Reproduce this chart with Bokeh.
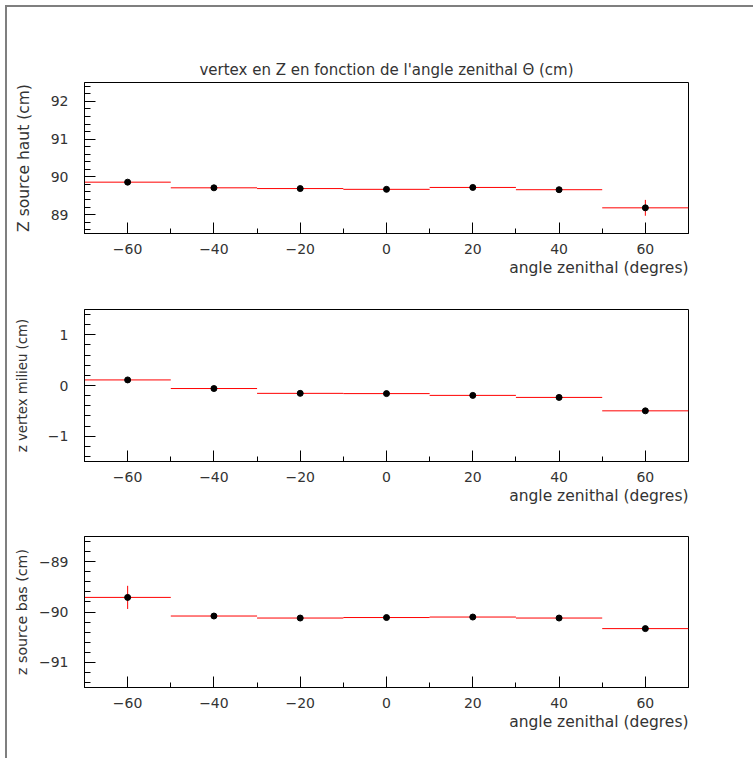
from bokeh.plotting import figure
from bokeh.layouts import column
from bokeh.models import (SingleIntervalTicker, ColumnDataSource, Range1d,
                          CustomJSTickFormatter, Title)
from bokeh.embed import file_html
from bokeh.resources import INLINE

# ---- data ----
angle = [-60, -40, -20, 0, 20, 40, 60]
angle_half_bin = [10, 10, 10, 10, 10, 10, 10]

z_haut = [89.86, 89.71, 89.69, 89.67, 89.72, 89.66, 89.18]
z_haut_err = [0.02, 0.02, 0.02, 0.02, 0.02, 0.03, 0.21]

z_milieu = [0.11, -0.06, -0.155, -0.16, -0.195, -0.235, -0.50]
z_milieu_err = [0.02, 0.02, 0.01, 0.01, 0.01, 0.01, 0.02]

z_bas = [-89.71, -90.08, -90.12, -90.11, -90.10, -90.12, -90.33]
z_bas_err = [0.23, 0.02, 0.02, 0.02, 0.02, 0.02, 0.03]

title_text = "vertex en Z en fonction de l'angle zenithal \u0398 (cm)"
x_label = "angle zenithal (degres)"

FONT = "DejaVu Sans"
TXT = "#333333"

minus_fmt = CustomJSTickFormatter(code="""
    return tick < 0 ? "\\u2212" + String(Math.abs(tick)) : String(tick);
""")


def panel(yvals, yerr, yrange, ylabel, ylabel_size, height, top, bottom, ystandoff, title=None):
    p = figure(width=746, height=height,
               x_range=Range1d(-70, 70), y_range=Range1d(*yrange),
               output_backend="svg", toolbar_location=None,
               min_border_left=77, min_border_right=65,
               min_border_top=top, min_border_bottom=bottom,
               title=title)
    p.grid.visible = False
    p.outline_line_color = "black"
    p.outline_line_width = 1
    p.background_fill_color = "white"
    p.border_fill_color = "white"

    if title:
        p.title.align = "center"
        p.title.text_font = FONT
        p.title.text_font_style = "normal"
        p.title.text_font_size = "15px"
        p.title.text_color = TXT
        p.title.standoff = 8

    xa = p.xaxis[0]
    xa.ticker = SingleIntervalTicker(interval=20, num_minor_ticks=2)
    xa.formatter = minus_fmt
    xa.major_label_text_font = FONT
    xa.major_label_text_font_size = "14px"
    xa.major_label_text_color = TXT
    xa.major_label_standoff = 10
    xa.major_tick_in = 11
    xa.major_tick_out = 0
    xa.minor_tick_in = 5
    xa.minor_tick_out = 0
    xa.axis_line_color = "black"
    xa.major_tick_line_color = "black"
    xa.minor_tick_line_color = "black"

    xt = Title(text=x_label, align="right", text_font=FONT, text_font_style="normal",
               text_font_size="15.5px", text_color=TXT, standoff=0, offset=0)
    p.add_layout(xt, "below")

    ya = p.yaxis[0]
    ya.ticker = SingleIntervalTicker(interval=1, num_minor_ticks=5)
    ya.formatter = minus_fmt
    ya.axis_label = ylabel
    ya.axis_label_text_font = FONT
    ya.axis_label_text_font_style = "normal"
    ya.axis_label_text_font_size = ylabel_size
    ya.axis_label_text_color = TXT
    ya.axis_label_standoff = ystandoff
    ya.major_label_text_font = FONT
    ya.major_label_text_font_size = "14px"
    ya.major_label_text_color = TXT
    ya.major_label_standoff = 16
    ya.major_tick_in = 11
    ya.major_tick_out = 0
    ya.minor_tick_in = 6
    ya.minor_tick_out = 0
    ya.axis_line_color = "black"
    ya.major_tick_line_color = "black"
    ya.minor_tick_line_color = "black"

    x0 = [a - h for a, h in zip(angle, angle_half_bin)]
    x1 = [a + h for a, h in zip(angle, angle_half_bin)]
    ylo = [v - e for v, e in zip(yvals, yerr)]
    yhi = [v + e for v, e in zip(yvals, yerr)]
    src = ColumnDataSource(dict(x=angle, y=yvals, x0=x0, x1=x1, ylo=ylo, yhi=yhi))
    p.segment(x0="x0", y0="y", x1="x1", y1="y", source=src, line_color="red", line_width=1)
    p.segment(x0="x", y0="ylo", x1="x", y1="yhi", source=src, line_color="red", line_width=1)
    p.scatter(x="x", y="y", source=src, size=6, fill_color="black", line_color="black")
    return p


p1 = panel(z_haut, z_haut_err, (88.5, 92.5), "Z source haut (cm)", "15.5px", 282, 75, 56, 15, title=title_text)
p2 = panel(z_milieu, z_milieu_err, (-1.5, 1.5), "z vertex milieu (cm)", "13.3px", 227, 20, 55, 15)
p3 = panel(z_bas, z_bas_err, (-91.5, -88.5), "z source bas (cm)", "14.2px", 242, 20, 71, 6)

layout = column(p1, p2, p3, spacing=0, margin=(5, 0, 0, 5),
                styles={"border-top": "2px solid #7f7f7f", "border-left": "2px solid #7f7f7f"})

open("out.html", "w").write(file_html(layout, INLINE))
